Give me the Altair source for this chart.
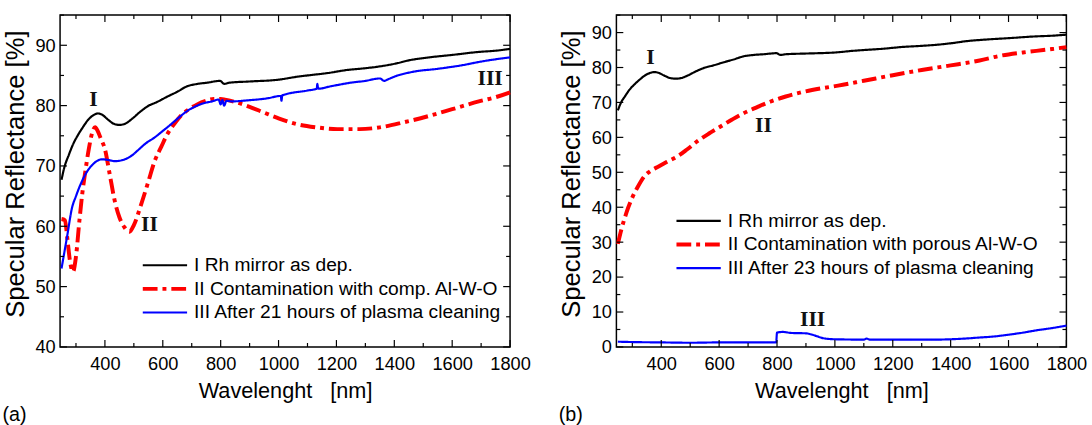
import altair as alt
import pandas as pd

# ---------------- data ----------------
# Panel (a)
a_black_wl = [250, 260, 275, 290, 309, 325, 343, 360, 375, 390, 410, 430, 450, 470, 491, 520, 548, 580, 616, 650, 684, 720, 753, 798, 812, 830, 900, 1000, 1066, 1100, 1170, 1236, 1300, 1350, 1407, 1450, 1521, 1600, 1692, 1750, 1800]
a_black_v = [67.7, 69.8, 71.8, 73.6, 75.3, 76.5, 77.7, 78.4, 78.7, 78.5, 77.7, 77.0, 76.8, 77.0, 77.7, 78.9, 79.9, 80.6, 81.5, 82.3, 83.2, 83.6, 83.8, 84.1, 83.6, 83.8, 84.0, 84.3, 84.8, 85.0, 85.4, 85.9, 86.2, 86.5, 87.0, 87.5, 88.0, 88.4, 88.9, 89.1, 89.4]

a_red_wl = [250, 262, 270, 280, 290, 300, 312, 322, 332, 345, 356, 366, 375, 386, 400, 417, 434, 450, 468, 485, 500, 525, 550, 571, 595, 616, 640, 662, 690, 719, 750, 776, 800, 815, 850, 900, 952, 1000, 1066, 1130, 1203, 1280, 1350, 1430, 1521, 1600, 1692, 1750, 1800]
a_red_v = [61.2, 61.0, 58.0, 54.0, 52.5, 55.0, 61.0, 65.5, 69.0, 73.0, 75.5, 76.4, 75.8, 74.5, 72.8, 68.5, 64.2, 61.5, 59.8, 59.1, 60.2, 63.6, 67.4, 70.7, 73.2, 75.3, 77.0, 78.3, 79.4, 80.2, 80.8, 81.1, 81.1, 81.0, 80.6, 79.8, 78.8, 77.9, 76.9, 76.4, 76.1, 76.1, 76.4, 77.2, 78.3, 79.4, 80.7, 81.4, 82.2]

a_blue_wl = [250, 270, 286, 300, 320, 340, 355, 372, 389, 410, 434, 455, 474, 495, 514, 540, 571, 600, 628, 655, 684, 710, 741, 770, 793, 800, 806, 812, 820, 838, 900, 960, 1008, 1010, 1013, 1100, 1132, 1134, 1137, 1180, 1250, 1300, 1350, 1365, 1380, 1400, 1464, 1550, 1635, 1700, 1800]
a_blue_v = [53.0, 58.5, 63.0, 65.0, 67.4, 69.2, 70.1, 70.8, 71.1, 71.0, 70.8, 70.9, 71.2, 71.8, 72.6, 73.7, 74.7, 75.8, 76.9, 78.0, 79.1, 79.8, 80.4, 80.7, 81.0, 80.2, 80.9, 80.0, 80.8, 80.7, 80.9, 81.2, 81.6, 80.8, 81.7, 82.5, 82.8, 83.6, 82.8, 83.2, 83.8, 84.1, 84.5, 84.1, 84.4, 84.8, 85.6, 86.1, 86.7, 87.3, 88.0]

# Panel (b)
b_black_wl = a_black_wl
b_black_v = a_black_v

b_red_wl = [250, 263, 280, 298, 320, 343, 365, 389, 420, 457, 490, 525, 565, 605, 645, 684, 730, 776, 830, 889, 950, 1011, 1100, 1200, 1300, 1400, 1500, 1568, 1650, 1720, 1800]
b_red_v = [29.5, 33.9, 38.5, 42.4, 46.0, 49.0, 50.5, 51.6, 53.0, 54.6, 56.6, 58.9, 61.1, 63.1, 65.1, 66.9, 68.6, 70.2, 71.7, 73.0, 74.0, 74.8, 76.2, 77.8, 79.3, 80.6, 82.0, 83.3, 84.3, 85.0, 85.8]

b_blue_wl = [250, 300, 400, 500, 600, 700, 797, 800, 820, 850, 900, 930, 960, 1000, 1100, 1110, 1120, 1200, 1300, 1350, 1400, 1450, 1500, 1550, 1600, 1650, 1700, 1750, 1800]
b_blue_v = [1.5, 1.4, 1.3, 1.2, 1.3, 1.3, 1.3, 4.1, 4.3, 4.0, 3.9, 3.3, 2.5, 2.2, 2.1, 2.4, 2.1, 2.1, 2.1, 2.1, 2.2, 2.4, 2.7, 3.0, 3.5, 4.1, 4.8, 5.4, 6.1]

a_labels = ["I Rh mirror as dep.", "II Contamination with comp. Al-W-O", "III After 21 hours of plasma cleaning"]
b_labels = ["I Rh mirror as dep.", "II Contamination with porous Al-W-O", "III After 23 hours of plasma cleaning"]

a_notes = ["I", "II", "III"]
a_notes_wl = [360, 554, 1731]
a_notes_v = [81.0, 60.4, 84.6]
b_notes = ["I", "II", "III"]
b_notes_wl = [363, 753, 923]
b_notes_v = [82.9, 63.6, 8.1]

x_major = [400, 600, 800, 1000, 1200, 1400, 1600, 1800]
x_minor = [300, 500, 700, 900, 1100, 1300, 1500, 1700]
a_y_major = [40, 50, 60, 70, 80, 90]
a_y_minor = [45, 55, 65, 75, 85, 95]
b_y_major = [0, 10, 20, 30, 40, 50, 60, 70, 80, 90]
b_y_minor = [5, 15, 25, 35, 45, 55, 65, 75, 85, 95]

colors = ["#000000", "#ff0000", "#0000ff"]
dashes = [[1, 0], [15, 5, 4, 5], [1, 0]]
widths = [2.2, 4.0, 2.2]

W, H = 457, 337
FONT = "Liberation Sans"
X_DOMAIN = [245, 1800]
X_TITLE = "Wavelenght\u00a0\u00a0\u00a0[nm]"
Y_TITLE = "Specular Reflectance [%]"


def series_df(labels, parts):
    rows = []
    for i, (wl, v) in enumerate(parts):
        for xx, yy in zip(wl, v):
            rows.append({"wl": xx, "R": yy, "series": labels[i], "k": i})
    return pd.DataFrame(rows)


def panel(labels, parts, notes, notes_wl, notes_v, y_domain, y_major, y_minor, leg_x, leg_y, tag):
    df = series_df(labels, parts)
    xs = alt.Scale(domain=X_DOMAIN, nice=False, zero=False)
    ys = alt.Scale(domain=y_domain, nice=False, zero=False)
    xax = alt.Axis(values=x_major, ticks=False, domain=False, grid=False, format="d",
                   labelOverlap=False, labelFlush=False,
                   title=X_TITLE, labelPadding=8, titlePadding=8)
    yax = alt.Axis(values=y_major, ticks=False, domain=False, grid=False, format="d",
                   labelOverlap=False, labelFlush=False, titleY=161,
                   title=Y_TITLE, labelPadding=5, titlePadding=7)
    leg = alt.Legend(orient="none", legendX=leg_x, legendY=leg_y, title=None,
                     symbolType="stroke", symbolSize=2025, clipHeight=24,
                     labelFontSize=19.5, labelFont=FONT, labelColor="#000000",
                     labelLimit=0, labelOffset=5, padding=0, rowPadding=0,
                     symbolOffset=0)
    X = lambda f: alt.X(f, scale=xs, axis=xax, title=X_TITLE)
    Y = lambda f: alt.Y(f, scale=ys, axis=yax, title=Y_TITLE)
    lines = alt.Chart(df).mark_line(interpolate="monotone", strokeCap="butt").encode(
        x=X("wl:Q"),
        y=Y("R:Q"),
        color=alt.Color("series:N", scale=alt.Scale(domain=labels, range=colors), legend=leg),
        strokeDash=alt.StrokeDash("series:N", scale=alt.Scale(domain=labels, range=dashes), legend=leg),
        strokeWidth=alt.StrokeWidth("series:N", scale=alt.Scale(type="ordinal", domain=labels, range=widths), legend=leg),
        order="k:Q",
    )
    ndf = pd.DataFrame({"t": notes, "wl": notes_wl, "R": notes_v})
    txt = alt.Chart(ndf).mark_text(font="Liberation Serif", fontWeight="bold", fontSize=22,
                                   color="#111111", baseline="middle", align="center").encode(
        x=X("wl:Q"), y=Y("R:Q"), text="t:N")

    def xt(vals, L):
        d = pd.DataFrame({"wl": vals})
        bot = alt.Chart(d).mark_rule(color="#000000", strokeWidth=1.2).encode(
            x=X("wl:Q"), y=alt.value(H), y2=alt.value(H - L))
        top = alt.Chart(d).mark_rule(color="#000000", strokeWidth=1.2).encode(
            x=X("wl:Q"), y=alt.value(0), y2=alt.value(L))
        return [bot, top]

    def yt(vals, L):
        d = pd.DataFrame({"R": vals})
        left = alt.Chart(d).mark_rule(color="#000000", strokeWidth=1.2).encode(
            y=Y("R:Q"), x=alt.value(0), x2=alt.value(L))
        right = alt.Chart(d).mark_rule(color="#000000", strokeWidth=1.2).encode(
            y=Y("R:Q"), x=alt.value(W), x2=alt.value(W - L))
        return [left, right]

    ticks = xt(x_major, 7) + xt(x_minor, 4) + yt(y_major, 7) + yt(y_minor, 4)
    return alt.layer(lines, txt, *ticks).properties(
        width=W, height=H,
        title=alt.TitleParams(tag, orient="bottom", anchor="start", frame="bounds",
                              font=FONT, fontSize=20, fontWeight="normal", offset=4,
                              color="#000000"))


pa = panel(a_labels, [(a_black_wl, a_black_v), (a_red_wl, a_red_v), (a_blue_wl, a_blue_v)],
           a_notes, a_notes_wl, a_notes_v, [40, 95], a_y_major, a_y_minor, 82, 242, "(a)")
pb = panel(b_labels, [(b_black_wl, b_black_v), (b_red_wl, b_red_v), (b_blue_wl, b_blue_v)],
           b_notes, b_notes_wl, b_notes_v, [0, 95], b_y_major, b_y_minor, 59, 197, "(b)")

chart = alt.hconcat(pa, pb, spacing=26).resolve_scale(
    x="independent", y="independent", color="independent",
    strokeDash="independent", strokeWidth="independent"
).resolve_legend(
    color="independent", strokeDash="independent", strokeWidth="independent"
).properties(
    padding={"left": 1, "top": 10, "right": 4, "bottom": 0},
    background="#ffffff"
).configure_view(
    stroke="#000000", strokeWidth=1.5
).configure_axis(
    labelFont=FONT, labelFontSize=18.5, labelColor="#000000",
    titleFont=FONT, titleFontSize=22, titleFontWeight="normal", titleColor="#000000"
).configure_axisY(titleFontSize=26)

chart.save("out.html", embed_options={"renderer": "svg", "actions": False})
